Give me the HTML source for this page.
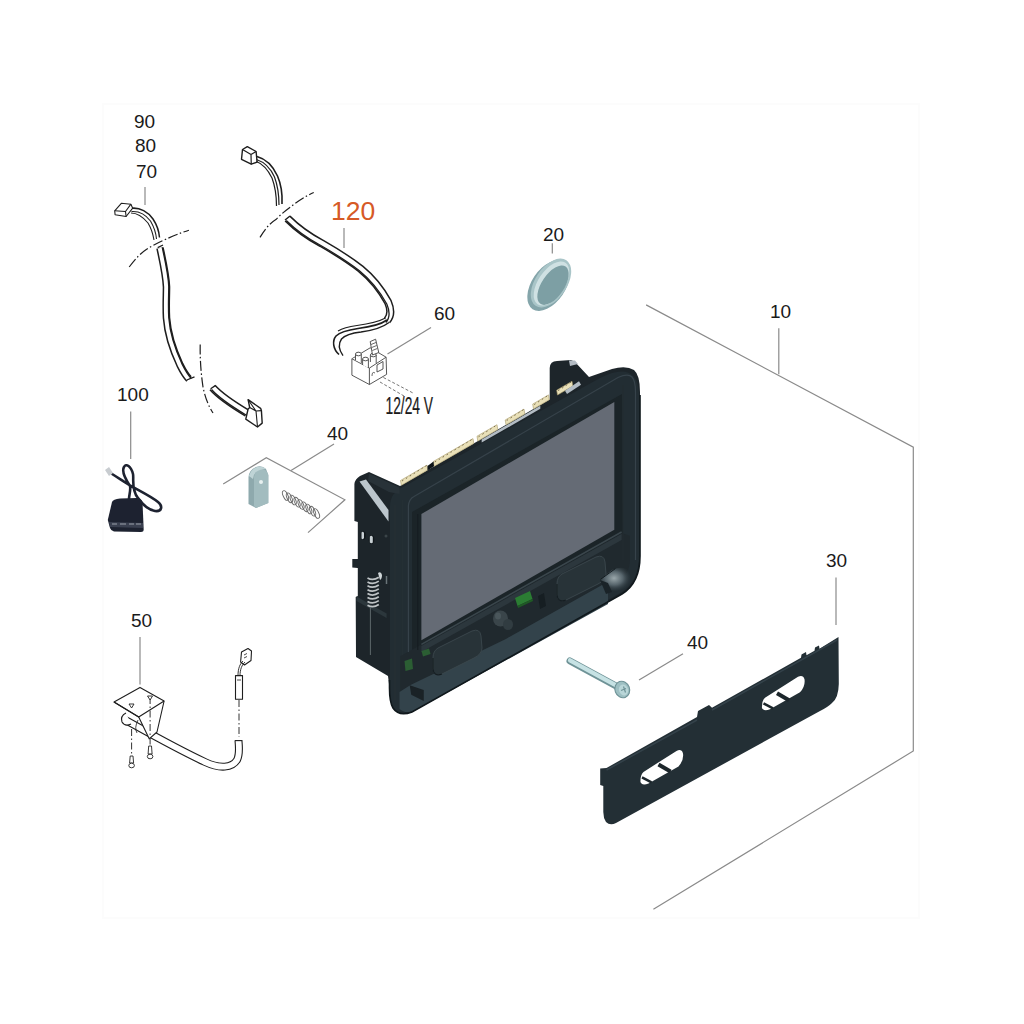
<!DOCTYPE html>
<html><head><meta charset="utf-8">
<style>
html,body{margin:0;padding:0;background:#fff;}
body{width:1024px;height:1024px;overflow:hidden;position:relative;}
svg{position:absolute;left:0;top:0;}
text{font-family:"Liberation Sans",sans-serif;fill:#1a1a1a;}
</style></head>
<body>
<svg width="1024" height="1024" viewBox="0 0 1024 1024">
<!-- faint frame -->
<rect x="103" y="104" width="816" height="814" fill="none" stroke="#fcfcfc" stroke-width="2"/>

<!-- ===== labels ===== -->
<g font-size="19">
<text x="134" y="128">90</text>
<text x="135" y="152">80</text>
<text x="136" y="178">70</text>
<text x="117" y="401">100</text>
<text x="327" y="440">40</text>
<text x="131" y="627">50</text>
<text x="543" y="241">20</text>
<text x="434" y="320">60</text>
<text x="770" y="318">10</text>
<text x="826" y="567">30</text>
<text x="687" y="649">40</text>
</g>
<text x="331" y="220" font-size="26.5" style="fill:#d65a26">120</text>
<text x="0" y="0" font-size="24" transform="translate(385.5 414.3) scale(0.575 1)" style="stroke:#1a1a1a;stroke-width:0.25">12/24 V</text>

<!-- leader lines -->
<g stroke="#8a8a8a" stroke-width="1.2" fill="none">
<line x1="145" y1="187" x2="145" y2="205"/>
<line x1="344" y1="228" x2="344" y2="248"/>
<line x1="431" y1="327.5" x2="387.5" y2="354"/>
<line x1="130.7" y1="411.5" x2="130.7" y2="459"/>
<line x1="334" y1="444" x2="291" y2="470.4"/>
<polyline points="223.2,484 266.3,457.7 344.9,499.8 308,532.6"/>
<line x1="140" y1="637" x2="140" y2="684.4"/>
<line x1="552.3" y1="243.3" x2="552.3" y2="253.6"/>
<line x1="778.8" y1="328.3" x2="778.8" y2="374.3"/>
<polyline points="646.1,304.9 913.3,447.2 913.3,751 653.4,909.3"/>
<line x1="836" y1="577.5" x2="836" y2="625"/>
<line x1="683" y1="653.7" x2="639" y2="680"/>
</g>

<!-- ===== wire 70/80/90 ===== -->
<g fill="none" stroke="#1e1e1e" stroke-width="1.1" stroke-linejoin="round">
<path d="M114.7,210.8 L121.3,203.3 L130.9,204.2 L132.7,208.2 L126.1,216.5 L115.1,214.8 Z" fill="#fff"/>
<path d="M114.7,210.8 L125.5,211.5 L130.9,204.2 M125.5,211.5 L126.1,216.5"/>
<path d="M132.2,208.2 C140,207.5 148,212 153,219 C157,225 159,231 159.5,237.5" stroke-width="1.5"/>
<path d="M131.5,211.5 C139,211 146,215 150.5,221 C154,227 156,233 156.5,239"/>
<path d="M131,213 C137,213 143,217 148,223 C151,228 153,234 154,240"/>
<!-- ribbon 70 -->
<path d="M160,248 C163,262 166,275 166.5,287 C166.5,296 165.8,305 166.5,318 C167.5,332 172,348 180,365 C183,371 186,376 189,379" stroke="#1e1e1e" stroke-width="7.6" stroke-linecap="butt"/>
<path d="M160,248 C163,262 166,275 166.5,287 C166.5,296 165.8,305 166.5,318 C167.5,332 172,348 180,365 C183,371 186,376 189,379" stroke="#fff" stroke-width="4.6"/>
<path d="M160,248 C163,262 166,275 166.5,287 C166.5,296 165.8,305 166.5,318 C167.5,332 172,348 180,365 C183,371 186,376 189,379" stroke="#1e1e1e" stroke-width="1.4" transform="translate(2.3 -0.6)"/>
<path d="M157.7,247.7 L163,245 M186.8,380 L194.5,376.9" stroke-width="1.3"/>
<!-- ribbon lower piece -->
<path d="M212.5,387.5 C220,396 232,404 247,413" stroke="#1e1e1e" stroke-width="8.2"/>
<path d="M212.5,387.5 C220,396 232,404 247,413" stroke="#fff" stroke-width="5.2"/>
<path d="M212.5,387.5 C220,396 232,404 247,413" stroke="#1e1e1e" stroke-width="1.4" transform="translate(-1 2)"/>
<path d="M210.6,388.75 L215.3,385.6" stroke-width="1.3"/>
<!-- rj plug -->
<path d="M245.8,419.2 L248.1,409 L249.7,407.5 L248.1,399.7 L260.6,408.3 L261.4,410.6 L262.2,423.1 L257.5,427 Z" fill="#fff" stroke-width="1.4"/>
<path d="M249.7,407.5 L256,411 L257.5,427 M256,411 L261.4,410.6 M248.1,399.7 L256,411" stroke-width="1.1"/>
</g>
<g fill="none" stroke="#1e1e1e" stroke-width="1.2" stroke-dasharray="10 2.5 1.5 2.5">
<path d="M129.2,267 C136,258 141,253 146.3,249.5 C152,246 159,242 166.5,239 C173,236 180,233 188.9,230.2"/>
<path d="M200.2,344.5 C200,356 200.5,370 203,387 C205,397 208,405 213,413"/>
</g>

<!-- ===== wire 120 ===== -->
<g fill="none" stroke="#1e1e1e" stroke-width="1.2" stroke-linejoin="round">
<path d="M242.5,149.5 L247.3,146.6 L256.1,151.5 L257.1,162.2 L251.25,164.2 L241.5,159.3 Z" fill="#fff" stroke-width="1.4"/>
<path d="M242.5,149.5 L251,154.5 L256.1,151.5 M251,154.5 L251.25,164.2"/>
<path d="M257,156.5 C266,159 273,166 277.5,176 C281,184 282.5,194 282,204" stroke-width="1.6"/>
<path d="M256.5,159.5 C264,162 270.5,168 274.5,177 C277.5,185 279,195 279,205"/>
<path d="M256.5,161.5 C263,164 268,170 272,178 C275,186 276.5,196 276.5,206"/>
<!-- ribbon -->
<path d="M287.5,218.5 C296,227 306,235 321.6,243.3 C335,251 348,259 360.6,268.7 C372,278 382,291 388,302 C391,309 391,316 387,320.5" stroke="#1e1e1e" stroke-width="8.2"/>
<path d="M287.5,218.5 C296,227 306,235 321.6,243.3 C335,251 348,259 360.6,268.7 C372,278 382,291 388,302 C391,309 391,316 387,320.5" stroke="#fff" stroke-width="5.2"/>
<path d="M287.5,218.5 C296,227 306,235 321.6,243.3 C335,251 348,259 360.6,268.7 C372,278 382,291 388,302 C391,309 391,316 387,320.5" stroke="#1e1e1e" stroke-width="1.3" transform="translate(-1.2 2)"/>
<path d="M285,220 L290,216" stroke-width="1.4"/>
<path d="M387,320 C380,325 370,327 358,328.5 C348,330 340,332 336,336 C332,341 333,349 339,354.5" stroke-width="1.6"/>
<path d="M389,322.5 C382,328 372,330.5 361,332 C352,333 345,335 341.5,339 C338,344 339,350 343,355.6" stroke-width="1.4"/>
<path d="M385.5,318 C378,322 368,324 357,325.5 C350,326.5 343,328 338,331"/>
</g>
<g fill="none" stroke="#1e1e1e" stroke-width="1.2" stroke-dasharray="10 2.5 1.5 2.5">
<path d="M260,237.4 C265,229 270,223 276.6,218.9 C282,213 288,209 294.2,204.2 C300,200 306,196 313.75,192.5"/>
</g>
<!-- terminal block 60 -->
<g fill="#fff" stroke="#444" stroke-width="0.9" stroke-linejoin="round">
<path d="M351.9,358.75 L370.2,347.8 L386.1,357.2 L386.6,374.4 L369.4,384.5 L351.9,375.2 Z"/>
<path d="M351.9,358.75 L369.4,368.1 L386.1,357.2 M369.4,368.1 L369.4,384.5"/>
<path d="M355.5,360 L355.5,354 Q358.4,351 361.3,354 L361.3,363" />
<ellipse cx="358.4" cy="354" rx="2.9" ry="1.8"/>
<path d="M362.6,365 L362.6,359 Q365.5,356 368.4,359 L368.4,368"/>
<ellipse cx="365.5" cy="359" rx="2.9" ry="1.8"/>
<path d="M370.4,362 L370.4,355 Q373.3,352 376.2,355 L376.2,364"/>
<ellipse cx="373.3" cy="355" rx="2.9" ry="1.8"/>
<path d="M370.2,341.6 L375.6,339.2 L378.75,352.5 L372.5,355 Z"/>
<path d="M371,344.5 l5,-2 M371.7,347.5 l5,-2 M372.3,350.5 l5,-2" stroke-width="0.8"/>
<path d="M377,372 L377,365 L383,361.5 L383,369 Z"/>
<path d="M372,376 Q372,371 375,373" stroke-width="0.8"/>
</g>
<g stroke="#777" stroke-width="1" stroke-dasharray="3 2" fill="none">
<line x1="383.4" y1="377.5" x2="413" y2="393"/>
<line x1="380" y1="382" x2="404" y2="396"/>
</g>

<!-- ===== adapter 100 ===== -->
<g>
<path d="M111.7,473.75 C120,479 126,483 131,486 C140,491 152,497 158,502 C163,506 162,512 155,511 C149,510 143,505 138,498 C131,490 134,478 133,474 C131,466 126,463 124,467 C121,472 126,480 130,486 C131,490 129,495 129,499" fill="none" stroke="#1d2230" stroke-width="2.6"/>
<path d="M105,470 L109,467 L113,473 L109,476 Z" fill="#c8ccd0"/>
<path d="M112,502 Q113,499 120,498.5 L137,498 Q142,499 142.5,502 L143.7,530 Q143.7,532 141,532 L114,531.5 Q111,531 110,528 L107.8,520 Z" fill="#1d2230"/>
<path d="M109,522 L143,523 L143,528 L110,527 Z" fill="#3a4050"/>
<path d="M112,524 h5 M120,524 h6 M129,524 h5 M136,524 h5" stroke="#9aa0aa" stroke-width="1"/>
</g>

<!-- ===== pin & spring 40 ===== -->
<g>
<path d="M248.5,477 Q249,470 256,467 Q262,465 266,469 L268.3,475 L268.3,503 L256,508 L248.5,504 Z" fill="#8ea9ad"/>
<path d="M254,477 Q255,470 261,469 Q267,469 268.3,475 L268.3,503 L256,508 L254,506 Z" fill="#a2bcbf"/>
<path d="M249,476 Q251,469 257,467 Q263,466 266,469 Q260,469 256,472 Q253,475 253,479 Z" fill="#bfd4d6"/>
<circle cx="261" cy="482" r="2" fill="#e8f0f0"/>
<g fill="none" stroke="#666" stroke-width="0.9"><ellipse cx="285.5" cy="495.5" rx="2.3" ry="5.2" transform="rotate(-25 285.5 495.5)"/><ellipse cx="289.4" cy="497.8" rx="2.3" ry="5.2" transform="rotate(-25 289.4 497.8)"/><ellipse cx="293.2" cy="500.0" rx="2.3" ry="5.2" transform="rotate(-25 293.2 500.0)"/><ellipse cx="297.1" cy="502.2" rx="2.3" ry="5.2" transform="rotate(-25 297.1 502.2)"/><ellipse cx="301.0" cy="504.5" rx="2.3" ry="5.2" transform="rotate(-25 301.0 504.5)"/><ellipse cx="304.9" cy="506.8" rx="2.3" ry="5.2" transform="rotate(-25 304.9 506.8)"/><ellipse cx="308.8" cy="509.0" rx="2.3" ry="5.2" transform="rotate(-25 308.8 509.0)"/><ellipse cx="312.6" cy="511.2" rx="2.3" ry="5.2" transform="rotate(-25 312.6 511.2)"/><ellipse cx="316.5" cy="513.5" rx="2.3" ry="5.2" transform="rotate(-25 316.5 513.5)"/></g>
</g>

<!-- ===== 50 assembly ===== -->
<g fill="none" stroke="#1e1e1e" stroke-width="1.1" stroke-linejoin="round">
<path d="M124.5,719.5 C140,728 175,748 205,762 C220,769 232,768 237,760 C240,754 239,748 238.5,740.6" stroke-width="8"/>
<path d="M124.5,719.5 C140,728 175,748 205,762 C220,769 232,768 237,760 C240,754 239,748 238.5,740.6" stroke="#fff" stroke-width="5.8"/>
<path d="M234.8,740.6 L242.2,740.6" stroke-width="1.1"/>
<path d="M114,702 L140,687.4 L164.1,701 L157,732 L149.2,738.8 L138.7,717 Z" fill="#fff"/>
<path d="M114,702 L138.7,717 L164.1,701"/>
<path d="M126,713 Q120,716 122,722 Q125,727 131,724" fill="#fff"/>
<path d="M138,720 Q134,728 137,733" stroke-width="0.8"/>
<rect x="235.5" y="675.6" width="7" height="23.7" fill="#fff"/>
<path d="M237,680 L241,680" stroke-width="0.8"/>
<path d="M241.5,652 L248,648.5 L251.5,651 L251,660.5 L244.5,665 L240.6,662 Z" fill="#fff" stroke-width="1.1"/>
<path d="M244,655 l3,-1.5 M244,658 l3,-1.5" stroke-width="0.8"/>
<path d="M238,676 C238,668 240,664 243,661 M240,676 C240,669 242,665 245,662" stroke-width="0.9"/>
</g>
<g stroke="#333" stroke-width="1" stroke-dasharray="7 2.5 1.5 2.5" fill="none">
<line x1="239" y1="700" x2="239" y2="737"/>
<line x1="131.6" y1="729" x2="131.6" y2="760"/>
<line x1="150.1" y1="697" x2="150.1" y2="749"/>
</g>
<g fill="#fff" stroke="#222" stroke-width="0.9">
<path d="M130.2,756 L133,756 L133.6,763 L129.6,763 Z"/>
<ellipse cx="131.6" cy="765.5" rx="2.8" ry="2.3"/>
<path d="M148.7,746 L151.5,746 L152.1,754 L148.1,754 Z"/>
<ellipse cx="150.1" cy="756.5" rx="2.8" ry="2.3"/>
<path d="M129,704 L134,704 L131.6,708 Z M147.5,696 L152.5,696 L150.1,700 Z" stroke-width="0.9"/>
</g>

<!-- ===== button 20 ===== -->
<g>
<ellipse cx="548.5" cy="285.5" rx="28.5" ry="16.8" fill="#84a5aa" transform="rotate(-56 548.5 285.5)"/>
<ellipse cx="551" cy="283" rx="27.5" ry="15.8" fill="#a9c5c8" transform="rotate(-56 551 283)"/>
<ellipse cx="551.5" cy="283.5" rx="25" ry="13.3" fill="#cfe1e3" transform="rotate(-56 551.5 283.5)"/>
<ellipse cx="553" cy="285.2" rx="22.5" ry="11.3" fill="#7d9fa4" transform="rotate(-56 553 285.2)"/>
</g>

<!-- ===== display unit 10 ===== -->
<g>
<!-- silhouette -->
<path d="M354.4,484 Q355,479 360,476 L369,472 L400,486 L549.7,399.6 L549.7,368 Q550,361 557,361 L571,360 L575,362 L589,377 L612,369 Q626,365 634,370 Q640,375 640,392 L640,556 Q640,583 622,594 L412,712 Q399,717 393,708 Q389.5,702 389.5,688 L388,676 L356,657 L355.7,597 L357.8,596 L357.8,568 L352.3,567.6 L352.3,559 L357.8,559 L357.8,522 L354.4,521 Z" fill="#1d252a"/>
<!-- bezel face -->
<path d="M390,506 Q390,493 403,487 L600,378 Q636,360 639,392 L639,556 Q639,581 622,592 L414,709 Q392,720 390,698 Z" fill="#222d33"/>
<!-- screen frame -->
<path d="M412,512 L622,394 L623,534 L412,652 Z" fill="#1b2428"/>
<!-- tray slot -->
<path d="M400.3,656.3 L622,533 L630,536 L630,560 Q629,578 612,588 L400.3,700 Z" fill="#20292e"/>
<path d="M421.4,646 L621.6,534 L621.6,540 L421.4,652 Z" fill="#2c373d"/>
<!-- lip band -->
<path d="M399.5,709 L399.5,692 L410.5,685 L505.9,638.9 L602.5,584.7 L608,590 L608,604 L414,711 Q405,714 399.5,709 Z" fill="#33434b"/>
<path d="M409.7,685.3 L423.75,690 L423.75,701 L411.25,694.7 Z" fill="#1a2226"/>
<path d="M389.5,680 L389.5,688 Q389.5,702 393,708 Q399,717 412,712 L622,594 Q640,583 640,556 L640,395" fill="none" stroke="#10181c" stroke-width="1.6"/>
<!-- ridge -->
<path d="M421.4,644.3 L621.6,532" stroke="#3a464c" stroke-width="1.5"/>
<!-- screen -->
<path d="M421.4,514 L614.3,402 L614.3,529.8 L421.4,640.2 Z" fill="#656b75"/>
<!-- bezel left vertical lines -->
<path d="M402.3,500 L402.3,655 M395,505 L395,700" stroke="#263035" stroke-width="1"/>
<path d="M623,385 L623,560" stroke="#222c31" stroke-width="1"/>
<!-- connectors -->
<g>
<path d="M400.5,480.5 L427.0,465.1 L427.8,469.9 L401.3,485.3 Z" fill="#e9e0b8" stroke="#a89a6a" stroke-width="0.6"/><path d="M402.0,481.0 L426.5,465.6" stroke="#7d7050" stroke-width="1" stroke-dasharray="1.6 3"/>
<path d="M433.3,461.5 L473.0,438.6 L473.8,443.4 L434.1,466.3 Z" fill="#e9e0b8" stroke="#a89a6a" stroke-width="0.6"/><path d="M434.8,462.0 L472.5,439.1" stroke="#7d7050" stroke-width="1" stroke-dasharray="1.6 3"/>
<path d="M477.0,436.2 L497.0,424.7 L497.8,429.5 L477.8,441.1 Z" fill="#e9e0b8" stroke="#a89a6a" stroke-width="0.6"/><path d="M478.5,436.8 L496.5,425.2" stroke="#7d7050" stroke-width="1" stroke-dasharray="1.6 3"/>
<path d="M505.2,420.0 L524.0,409.1 L524.8,413.9 L506.0,424.8 Z" fill="#e9e0b8" stroke="#a89a6a" stroke-width="0.6"/><path d="M506.7,420.5 L523.5,409.6" stroke="#7d7050" stroke-width="1" stroke-dasharray="1.6 3"/>
<path d="M532.7,404.1 L548.5,394.9 L549.3,399.7 L533.5,408.9 Z" fill="#e9e0b8" stroke="#a89a6a" stroke-width="0.6"/><path d="M534.2,404.6 L548.0,395.4" stroke="#7d7050" stroke-width="1" stroke-dasharray="1.6 3"/>
<path d="M556.7,390.2 L572.0,381.3 L572.8,386.1 L557.5,395.0 Z" fill="#e9e0b8" stroke="#a89a6a" stroke-width="0.6"/><path d="M558.2,390.7 L571.5,381.8" stroke="#7d7050" stroke-width="1" stroke-dasharray="1.6 3"/>
<path d="M427.5,466.0 L433.5,461.5 L434,466.2 L427.5,470.5 Z" fill="#0e1418"/>
<path d="M481.7,439.6 L540.3,405.8 L540.3,408.8 L481.7,442.6 Z" fill="#b3bcc4"/>
<path d="M565,390.8 L579,381.2 L581,384.7 L567,394.1 Z" fill="#b3bcc4"/>
<path d="M569,360.5 L575,360.5 L578,364 L570,366 Z" fill="#b4bcc4"/>
</g>
<!-- bracket highlight -->
<path d="M369,473.5 L399.5,487.5 L399.5,494 L389,492 L368,481 Z" fill="#283238"/>
<path d="M359.5,481.5 L366,479.5 L388.5,510 L388.5,521.5 Z" fill="#bcc6cc"/>
<!-- bracket holes -->
<ellipse cx="363.2" cy="535.5" rx="2.6" ry="4.2" fill="#10161a"/><path d="M361.5,532.5 Q363,531 364,533 L364,538 Q363,540 361.5,538.5 Z" fill="#c8d0d4"/>
<ellipse cx="371.5" cy="539.5" rx="2.8" ry="4.3" fill="#10161a"/><path d="M369.8,536.5 Q371.5,535 372.8,537 L372.8,542.5 Q371.5,544 369.8,542.5 Z" fill="#c8d0d4"/>
<circle cx="386" cy="536" r="1.5" fill="#3a4448"/>
<!-- spring -->
<path d="M356.5,596.6 L386.6,613.5 L386.6,618 L356.5,601 Z" fill="#2c373c"/>
<g fill="none" stroke="#bfc4c6" stroke-width="1.7"><path d="M367.5,578.0 Q373,581.2 378.8,577.2"/><path d="M367.5,581.9 Q373,585.1 378.8,581.1"/><path d="M367.5,585.8 Q373,589.0 378.8,585.0"/><path d="M367.5,589.7 Q373,592.9 378.8,588.9"/><path d="M367.5,593.6 Q373,596.8 378.8,592.8"/><path d="M367.5,597.5 Q373,600.7 378.8,596.7"/><path d="M367.5,601.4 Q373,604.6 378.8,600.6"/><path d="M367.5,605.3 Q373,608.5 378.8,604.5"/></g>
<path d="M370.4,607 L370.4,655" stroke="#5d676b" stroke-width="1"/>
<path d="M378,573 Q381,571 382,575 Q382,579 380,580 Z" fill="#d0d6d8"/>
<path d="M386.5,576 L386.5,584" stroke="#6a7478" stroke-width="1.5"/>
<!-- bezel lip -->
<path d="M408.4,652 L408.4,506 Q409,499 414,496.5 L618,377.5 Q628,373 632,377 Q635.5,381 635.5,392 L635.5,560" fill="none" stroke="#36424a" stroke-width="1.2"/>
<path d="M417.8,514 L417.8,650" stroke="#141c20" stroke-width="1"/>
<!-- green leds -->
<path d="M538,596 L544,593 L546,606 L540,609 Z" fill="#161e22"/>
<path d="M515,598 L530,591 L532.5,599 L517.5,606 Z" fill="#2b7d33"/><path d="M517.5,606 L532.5,599 L533,601 L518,608 Z" fill="#1f5a25"/>
<path d="M404.5,661 L412,658.5 L413,669 L405.5,671 Z" fill="#2b5e33"/>
<path d="M421.5,651 L429,648.5 L430.5,654 L423,656.5 Z" fill="#2b5e33"/>
<!-- buttons -->
<path d="M562,574 L596,557 Q604,554 605,562 L606,574 Q606,580 598,584 L566,600 Q558,603 557,595 L557,584 Q557,577 562,574 Z" fill="#283338" stroke="#3b474d" stroke-width="0.9"/>
<path d="M566,600 Q558,603 557,595 L557,584" fill="none" stroke="#161e22" stroke-width="1.2"/>
<path d="M438,648 L472,631 Q480,628 481,636 L482,648 Q482,654 474,658 L442,674 Q434,677 433,669 L433,658 Q433,651 438,648 Z" fill="#283338" stroke="#3b474d" stroke-width="0.9"/>
<path d="M442,674 Q434,677 433,669 L433,658" fill="none" stroke="#161e22" stroke-width="1.2"/>
<ellipse cx="500.5" cy="618.5" rx="7.5" ry="8" fill="#3a454a"/><ellipse cx="508" cy="624.5" rx="5" ry="5.5" fill="#313c41"/><ellipse cx="498" cy="616" rx="3" ry="3.5" fill="#4a565b"/>
<!-- tray right highlight -->
<defs><radialGradient id="hl" cx="0.45" cy="0.45" r="0.6"><stop offset="0" stop-color="#9aa7ab"/><stop offset="0.5" stop-color="#55636a"/><stop offset="1" stop-color="#2a363c" stop-opacity="0"/></radialGradient></defs>
<path d="M600.5,579.4 L612,570 Q620,566 627,569 Q632,576 630,584 Q624,591 614,591 Q605,589 600.5,579.4 Z" fill="url(#hl)"/>
<path d="M600.5,579.4 L615.4,568.6" stroke="#141c20" stroke-width="1"/>
<path d="M600,580 L606,594 L612,592 L608,583 Z" fill="#1a2328"/>
</g>

<!-- ===== screw 40 ===== -->
<g>
<line x1="570" y1="661" x2="617" y2="686.5" stroke="#6f9397" stroke-width="7" stroke-linecap="round"/>
<line x1="570" y1="660.3" x2="617" y2="685.8" stroke="#c6e2e4" stroke-width="4.3" stroke-linecap="round"/>
<ellipse cx="622.3" cy="689.5" rx="7.3" ry="8.4" fill="#9dbfc2" stroke="#6f9397" stroke-width="1.1" transform="rotate(-20 622.3 689.5)"/>
<ellipse cx="623.5" cy="690" rx="4.5" ry="5.5" fill="#b9d6d8" transform="rotate(-20 623.5 690)"/>
<path d="M623.5,686.5 l2,6 M621,690.5 l5,-2" stroke="#6f9397" stroke-width="1.2"/>
</g>

<!-- ===== panel 30 ===== -->
<g>
<path d="M600.2,768.6 L606.5,768 L697,717 L698,711 L709,705 L712,707.7 L801,657.8 L801.5,654.5 L806,652 L806.5,655.3 L814.5,650.8 L815,647.5 L819,645.5 L819.5,648.7 L838.5,637 L838.8,684 Q838.5,698 832,703 Q828,707 820,711 L616,823 Q610,826 606,822 Q603.3,818 603.3,812 L603.3,786 L600.2,785 Z" fill="#232f35"/>
<path d="M606.5,770 L697,720 M712,710 L837,640" stroke="#34424a" stroke-width="1.5" fill="none"/>
<g transform="translate(762 706.3)">
<path d="M0,0 Q0,-6 3,-8.5 L36,-29.5 Q41,-32 42.5,-27 Q43.5,-20 38,-14 L8,3 Q3,5 1,3 Q-0.5,2 0,0 Z" fill="#fff"/>
<path d="M15,-13 L27,-6" stroke="#1c262b" stroke-width="4"/>
<path d="M1.5,-3 L11,2" stroke="#1c262b" stroke-width="2.5"/>
</g>
<g transform="translate(640.5 780.4)">
<path d="M0,0 Q0,-6 3,-8.5 L36,-29.5 Q41,-32 42.5,-27 Q43.5,-20 38,-14 L8,3 Q3,5 1,3 Q-0.5,2 0,0 Z" fill="#fff"/>
<path d="M18,-16 L30,-9" stroke="#1c262b" stroke-width="4"/>
<path d="M1.5,-3 L11,2" stroke="#1c262b" stroke-width="2.5"/>
</g>
</g>
</svg>
</body></html>
